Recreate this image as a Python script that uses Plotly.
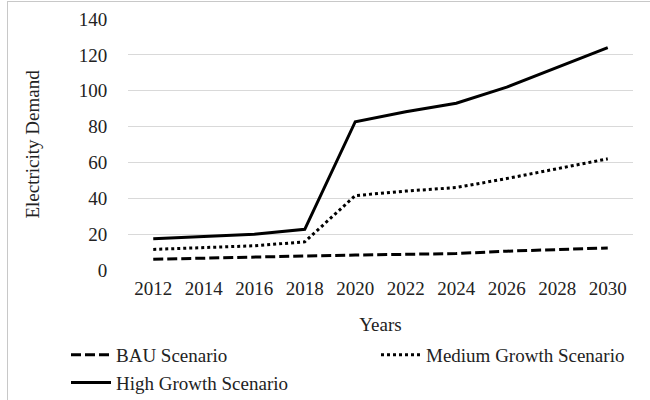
import plotly.graph_objects as go

years = ["2012", "2014", "2016", "2018", "2020", "2022", "2024", "2026", "2028", "2030"]
bau = [6.0, 6.7, 7.2, 7.8, 8.3, 8.9, 9.2, 10.5, 11.2, 12.3]
medium = [11.5, 12.5, 13.5, 15.7, 41.5, 44.0, 46.0, 51.0, 56.5, 62.0]
high = [17.5, 18.7, 20.0, 22.7, 82.7, 88.3, 93.0, 102.0, 113.0, 124.0]
y_ticks = [0, 20, 40, 60, 80, 100, 120, 140]

FONT = "Liberation Serif"
FS = 19

fig = go.Figure()
fig.add_trace(go.Scatter(x=years, y=bau, mode="lines", name="BAU Scenario",
                         line=dict(color="black", width=3, dash="10px,4px")))
fig.add_trace(go.Scatter(x=years, y=medium, mode="lines", name="Medium Growth Scenario",
                         line=dict(color="black", width=3, dash="3px,3px")))
fig.add_trace(go.Scatter(x=years, y=high, mode="lines", name="High Growth Scenario",
                         line=dict(color="black", width=3)))

W, H = 650, 400
L, R, T, B = 128, 17, 19, 130
pw = W - L - R
ph = H - T - B

def px(x):
    return (x - L) / pw

def py(y):
    return (H - B - y) / ph

fig.update_layout(
    width=W, height=H,
    margin=dict(l=L, r=R, t=T, b=B, autoexpand=False),
    paper_bgcolor="white", plot_bgcolor="white",
    font=dict(family=FONT, size=FS, color="#222"),
    showlegend=True,
    legend=dict(orientation="h", x=px(66), y=py(336), xanchor="left", yanchor="top",
                entrywidth=255, entrywidthmode="pixels", traceorder="normal",
                font=dict(family=FONT, size=FS, color="#222"), itemwidth=40,
                tracegroupgap=0, bgcolor="rgba(0,0,0,0)"),
    xaxis=dict(type="category", range=[-0.5, 9.5], showgrid=False, zeroline=False,
               showline=False, ticks="outside", ticklen=1, tickcolor="rgba(0,0,0,0)",
               automargin=False,
               title=dict(text="Years", standoff=19, font=dict(family=FONT, size=FS)),
               tickfont=dict(family=FONT, size=FS)),
    yaxis=dict(range=[0, 140], tickvals=y_ticks, showgrid=True, gridcolor="#d9d9d9",
               gridwidth=1, zeroline=False, showline=False, ticks="outside", ticklen=16,
               tickcolor="rgba(0,0,0,0)", automargin=False,
               title=dict(text="Electricity Demand", standoff=34, font=dict(family=FONT, size=FS)),
               tickfont=dict(family=FONT, size=FS)),
)

# chart-area border (left and top edges visible in the reference)
fig.add_shape(type="line", xref="paper", yref="paper", x0=px(7), x1=px(650), y0=py(1.5), y1=py(1.5),
              line=dict(color="#c8c8c8", width=1), layer="above")
fig.add_shape(type="line", xref="paper", yref="paper", x0=px(7.5), x1=px(7.5), y0=py(1.5), y1=py(400),
              line=dict(color="#c8c8c8", width=1), layer="above")

fig.write_html("out.html", config={"displayModeBar": False},
               post_script="document.body.style.margin='0';document.body.style.overflow='hidden';")
